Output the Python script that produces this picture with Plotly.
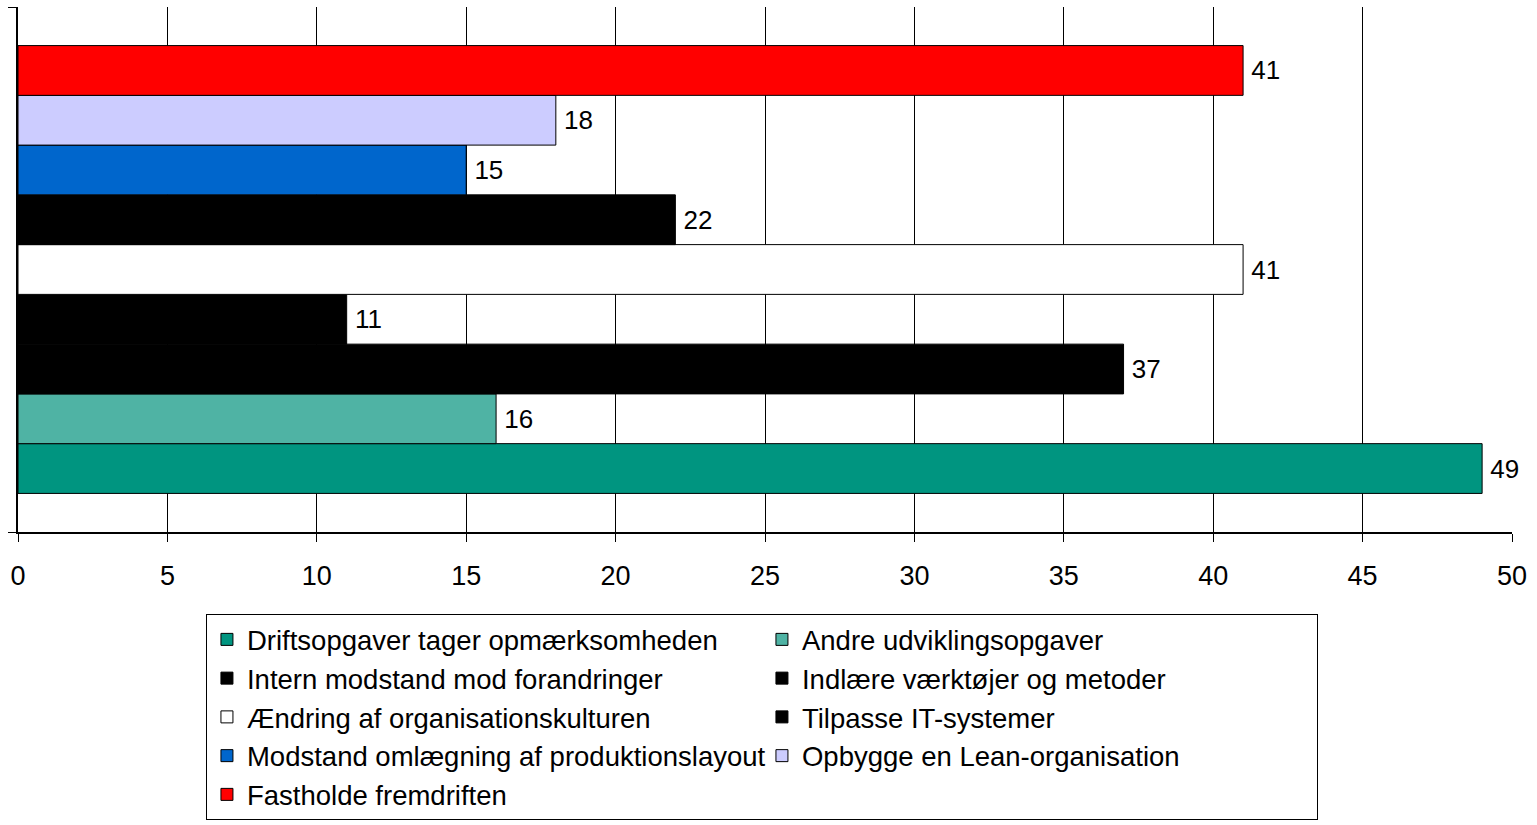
import plotly.graph_objects as go

categories = [
    "Driftsopgaver tager opmærksomheden",
    "Andre udviklingsopgaver",
    "Intern modstand mod forandringer",
    "Indlære værktøjer og metoder",
    "Ændring af organisationskulturen",
    "Tilpasse IT-systemer",
    "Modstand omlægning af produktionslayout",
    "Opbygge en Lean-organisation",
    "Fastholde fremdriften",
]
values = [49, 16, 37, 11, 41, 22, 15, 18, 41]
colors = ["#009580", "#4FB3A4", "#000000", "#000000", "#FFFFFF",
          "#000000", "#0066CC", "#CCCCFF", "#FF0000"]
group = ["Udfordringer"]
x_ticks = [0, 5, 10, 15, 20, 25, 30, 35, 40, 45, 50]

FONT = "Liberation Sans, Arial, sans-serif"

fig = go.Figure()
for name, v, c in zip(categories, values, colors):
    fig.add_trace(go.Bar(
        y=group, x=[v], name=name, orientation="h",
        marker=dict(color=c, line=dict(color="black", width=1)),
        text=[v], texttemplate="\u2009%{text}", textposition="outside",
        textfont=dict(family=FONT, size=26, color="black"),
        constraintext="none", cliponaxis=False,
    ))

fig.update_layout(
    width=1537, height=825,
    margin=dict(l=18, r=25, t=7, b=293, autoexpand=False),
    paper_bgcolor="white", plot_bgcolor="white",
    barmode="group", bargap=0.147, bargroupgap=0,
    font=dict(family=FONT, size=26, color="black"),
    showlegend=True,
    legend=dict(
        orientation="h", x=0.1258, y=-0.1562, xanchor="left", yanchor="top",
        traceorder="normal", entrywidth=510, entrywidthmode="pixels",
        bordercolor="black", borderwidth=1, bgcolor="white",
        font=dict(family=FONT, size=27.5, color="black"),
        itemwidth=30, tracegroupgap=0,
    ),
    xaxis=dict(
        range=[0, 50], tickvals=x_ticks, ticks="outside", ticklen=8,
        tickcolor="black", showline=True, linecolor="black", linewidth=1.5,
        showgrid=True, gridcolor="black", gridwidth=1, zeroline=False,
        ticklabelstandoff=11,
        tickfont=dict(family=FONT, size=27, color="black"),
    ),
    yaxis=dict(
        showticklabels=False, ticks="outside", ticklen=8, tickcolor="black",
        tickson="boundaries", showline=True, linecolor="black", linewidth=1.5,
        showgrid=True, gridcolor="black", gridwidth=1, zeroline=False,
    ),
)

fig.write_html(
    "out.html",
    config={"displayModeBar": False},
    post_script="document.body.style.margin='0';document.body.style.overflow='hidden';",
)
